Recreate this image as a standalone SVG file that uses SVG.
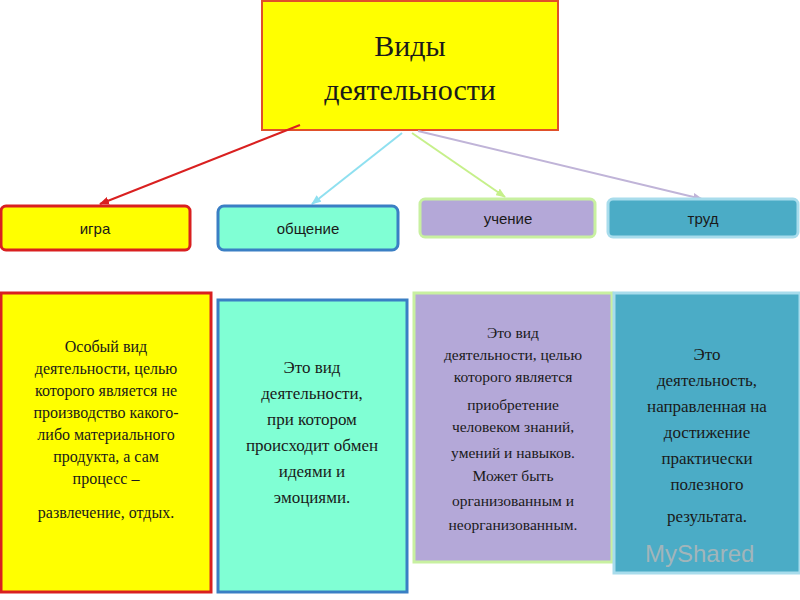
<svg xmlns="http://www.w3.org/2000/svg" width="800" height="600" viewBox="0 0 800 600">
<defs>
<style>
.s{font-family:"Liberation Serif","Times New Roman",serif;fill:#1a1a1a;text-anchor:middle}
.l{font-family:"Liberation Sans",Arial,sans-serif;fill:#1a1a1a;text-anchor:middle;font-size:15px}
.t{font-size:15.5px}
.b{font-size:16px}
</style>
<marker id="ar" markerWidth="10" markerHeight="8" refX="9" refY="4" orient="auto" markerUnits="userSpaceOnUse"><path d="M0,0L10,4L0,8z" fill="context-stroke"/></marker>
</defs>
<rect width="800" height="600" fill="#fff"/>
<g id="title"><rect x="262" y="1" width="296" height="129" fill="#ffff00" stroke="#e0502a" stroke-width="2"/>
<text class="s" x="410" y="56" font-size="30">Виды</text><text class="s" x="410" y="100" font-size="30">деятельности</text></g>
<g id="connectors" stroke-width="2" fill="none">
<line x1="300" y1="125" x2="100" y2="204" stroke="#d92020" marker-end="url(#ar)"/>
<line x1="402" y1="133" x2="312" y2="204" stroke="#8fe0f0" marker-end="url(#ar)"/>
<line x1="412" y1="133" x2="505" y2="197" stroke="#c6f08a" marker-end="url(#ar)"/>
<line x1="418" y1="131" x2="702" y2="199" stroke="#c0b4d8" marker-end="url(#ar)"/>
</g>
<g id="igra"><rect x="1" y="206" width="189" height="44" rx="5" fill="#ffff00" stroke="#d92020" stroke-width="3"/><text class="l" x="95" y="234">игра</text></g>
<g id="obsh"><rect x="218" y="206" width="180" height="44" rx="6" fill="#80ffd4" stroke="#3a7fc4" stroke-width="3"/><text class="l" x="308" y="234">общение</text></g>
<g id="uch"><rect x="420" y="199" width="175" height="38" rx="5" fill="#b4a8d8" stroke="#c8f0a0" stroke-width="3"/><text class="l" x="508" y="224">учение</text></g>
<g id="trud"><rect x="608" y="199" width="190" height="38" rx="5" fill="#4bacc6" stroke="#a8dcec" stroke-width="3"/><text class="l" x="703" y="224">труд</text></g>
<g id="d1"><rect x="1" y="293" width="210" height="299" fill="#ffff00" stroke="#d92020" stroke-width="3"/>
<text class="s b"><tspan x="106" y="352">Особый вид</tspan><tspan x="106" y="374">деятельности, целью</tspan><tspan x="106" y="396">которого является не</tspan><tspan x="106" y="418">производство какого-</tspan><tspan x="106" y="440">либо материального</tspan><tspan x="106" y="462">продукта, а сам</tspan><tspan x="106" y="484">процесс –</tspan><tspan x="106" y="518">развлечение, отдых.</tspan></text></g>
<g id="d2"><rect x="218" y="300" width="189" height="292" fill="#80ffd4" stroke="#3a7fc4" stroke-width="3"/>
<text class="s" font-size="17"><tspan x="312" y="373">Это вид</tspan><tspan x="312" y="399">деятельности,</tspan><tspan x="312" y="425">при котором</tspan><tspan x="312" y="451">происходит обмен</tspan><tspan x="312" y="477">идеями и</tspan><tspan x="312" y="503">эмоциями.</tspan></text></g>
<g id="d3"><rect x="414" y="293" width="198" height="269" fill="#b4a8d8" stroke="#c8f0a0" stroke-width="3"/>
<text class="s t"><tspan x="513" y="338">Это вид</tspan><tspan x="513" y="360">деятельности, целью</tspan><tspan x="513" y="382">которого является</tspan><tspan x="513" y="410">приобретение</tspan><tspan x="513" y="432">человеком знаний,</tspan><tspan x="513" y="458">умений и навыков.</tspan><tspan x="513" y="481">Может быть</tspan><tspan x="513" y="506">организованным и</tspan><tspan x="513" y="530">неорганизованным.</tspan></text></g>
<g id="d4"><rect x="614" y="293" width="186" height="280" fill="#4bacc6" stroke="#a8dcec" stroke-width="3"/>
<text class="s" font-size="17"><tspan x="707" y="360">Это</tspan><tspan x="707" y="386">деятельность,</tspan><tspan x="707" y="412">направленная на</tspan><tspan x="707" y="438">достижение</tspan><tspan x="707" y="464">практически</tspan><tspan x="707" y="490">полезного</tspan><tspan x="707" y="522">результата.</tspan></text></g>
<text x="645" y="562" font-family="Liberation Sans,sans-serif" font-size="24" fill="#b8b8b8" opacity="0.8">MyShared</text>
</svg>
